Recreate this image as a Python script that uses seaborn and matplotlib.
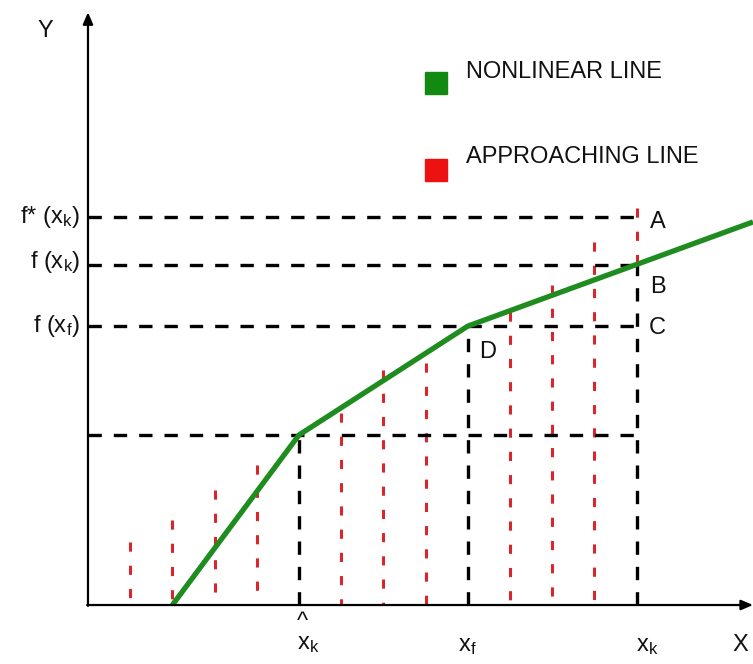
import numpy as np
import pandas as pd
import seaborn as sns
import matplotlib.pyplot as plt
from matplotlib.patches import Rectangle

# nonlinear curve (piecewise)
curve_x = [2, 5, 9, 15.76]
curve_y = [0, 4.03, 6.61, 9.08]

# approaching (red) lines: position and height
red_x = [1, 2, 3, 4, 6, 7, 8, 10, 11, 12, 13]
red_h = [1.49, 2.01, 2.73, 3.32, 4.55, 5.57, 5.73, 6.94, 7.58, 8.60, 9.41]

# guide levels
x_hat, x_f, x_k = 5, 9, 13
y_hat, y_f, y_k, y_star = 4.03, 6.61, 8.07, 9.19

sns.set_style('white')
plt.rcParams['font.family'] = ['Liberation Sans', 'DejaVu Sans']
plt.rcParams['mathtext.fontset'] = 'custom'
plt.rcParams['mathtext.rm'] = 'Liberation Sans'
plt.rcParams['mathtext.it'] = 'Liberation Sans'
plt.rcParams['text.color'] = '#111111'

fig = plt.figure(figsize=(7.53, 6.64), dpi=100)
ax = fig.add_axes([0, 0, 1, 1])
ax.set_xlim(-2.085, 15.76)
ax.set_ylim(-1.398, 14.34)
ax.axis('off')

red = '#d8262e'
blk_ls = (0, (4.0, 3.6))
red_ls = (0, (3.0, 4.6))

# red dashed verticals, drawn top-down so each starts with a dash
ax.vlines(red_x[:-1], red_h[:-1], 0, colors=red, linestyles=red_ls, lw=2.2)
ax.vlines(red_x[-1], red_h[-1], y_k, colors=red, linestyles=red_ls, lw=2.2)

# black dashed guides
ax.hlines([y_hat, y_f, y_k, y_star], 0, x_k, colors='black', linestyles=blk_ls, lw=2.4)
ax.vlines([x_hat, x_f, x_k], 0, [y_hat, y_f, y_k], colors='black', linestyles=blk_ls, lw=2.4)

# nonlinear line
df = pd.DataFrame({'x': curve_x, 'y': curve_y})
sns.lineplot(data=df, x='x', y='y', ax=ax, color='#1f8c1f', lw=3.8, sort=False,
             solid_capstyle='butt')

# axes with arrows
arrow = dict(arrowstyle='-|>,head_length=0.7,head_width=0.3', color='black', lw=1.6,
             shrinkA=0, shrinkB=0)
ax.annotate('', xy=(0, 14.05), xytext=(0, -0.02), arrowprops=arrow)
ax.annotate('', xy=(15.76, 0), xytext=(-0.02, 0), arrowprops=arrow)

fs = 17
ax.text(-1.02, 13.6, 'Y', fontsize=fs, ha='center', va='center')
ax.text(15.45, -0.95, 'X', fontsize=fs, ha='center', va='center')

# left labels
ax.text(-0.19, y_star, r'f* (x$_\mathregular{k}$)', fontsize=17, ha='right', va='center')
ax.text(-0.19, y_k + 0.05, r'f (x$_\mathregular{k}$)', fontsize=17, ha='right', va='center')
ax.text(-0.19, y_f, r'f (x$_\mathregular{f}$)', fontsize=17, ha='right', va='center')

# bottom labels (hat over the first x_k as a second line above it)
ax.text(x_hat - 0.04, -0.13, '^\n' + r'x$_\mathregular{k}$', fontsize=fs, ha='left',
        va='top', linespacing=1.0, multialignment='left')
ax.text(x_f, -0.98, r'x$_\mathregular{f}$', fontsize=fs, ha='center', va='center')
ax.text(x_k + 0.25, -0.98, r'x$_\mathregular{k}$', fontsize=fs, ha='center', va='center')

# point labels
ax.text(13.5, 9.08, 'A', fontsize=fs, ha='center', va='center')
ax.text(13.5, 7.54, 'B', fontsize=fs, ha='center', va='center')
ax.text(13.5, 6.56, 'C', fontsize=fs, ha='center', va='center')
ax.text(9.48, 6.0, 'D', fontsize=fs, ha='center', va='center')

# legend
ax.add_patch(Rectangle((0.564, 0.858), 0.029, 0.033, transform=ax.transAxes,
                       color='#128a12'))
ax.add_patch(Rectangle((0.564, 0.727), 0.029, 0.033, transform=ax.transAxes,
                       color='#ee1111'))
ax.text(0.619, 0.892, 'NONLINEAR LINE', transform=ax.transAxes, fontsize=fs,
        va='center', ha='left')
ax.text(0.619, 0.764, 'APPROACHING LINE', transform=ax.transAxes, fontsize=fs,
        va='center', ha='left')

fig.savefig('out.png', dpi=100)
